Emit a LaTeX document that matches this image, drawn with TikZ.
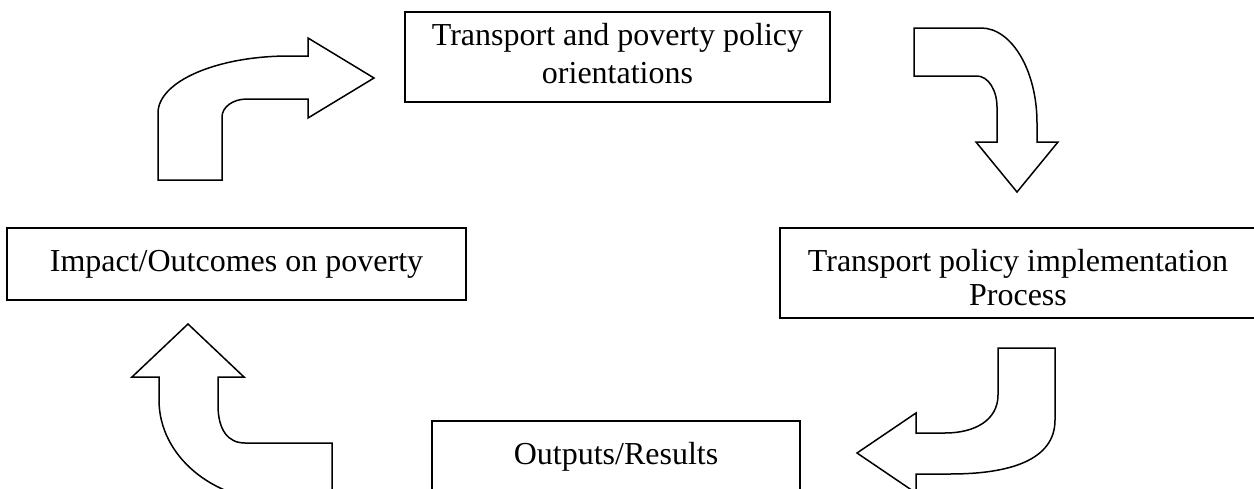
\documentclass[tikz,border=0pt]{standalone}
\usepackage{fontspec}
\setmainfont{Liberation Serif}
\begin{document}
\begin{tikzpicture}[x=1pt,y=-1pt,line join=miter,
  box/.style={draw,line width=1.8pt,inner sep=0pt,align=center,fill=white},
  blockarrow/.style={draw,line width=1.5pt,fill=white}]
\useasboundingbox (0,0) rectangle (1254,488);
\clip (0,0) rectangle (1254,488);
% boxes
\node[box,minimum width=425pt,minimum height=90pt,font=\fontsize{32}{38}\selectfont] (policy) at (617.5,57) {Transport and poverty policy\\orientations\rule[-8pt]{0pt}{8pt}};
\node[box,minimum width=476pt,minimum height=90pt,font=\fontsize{32}{34}\selectfont] (impl) at (1018,273) {\rule{0pt}{32pt}Transport policy implementation\\Process};
\node[box,minimum width=368pt,minimum height=72pt,font=\fontsize{32}{38}\selectfont] (outputs) at (616,457) {Outputs/Results};
\node[box,minimum width=459pt,minimum height=72pt,font=\fontsize{32}{38}\selectfont] (impact) at (236.5,264) {Impact/Outcomes on poverty};
% arrow A: up then right
\draw[blockarrow] (158,180) -- (158,113) .. controls (158,81.5) and (216.7,56) .. (289,56)
  -- (308,56) -- (308,38) -- (374,78) -- (308,118) -- (308,99) -- (247,99)
  .. controls (233,99) and (222,107) .. (222,117) -- (222,180) -- cycle;
% arrow B: right then down
\draw[blockarrow] (914,28) -- (914,76) -- (977,76) .. controls (988,76) and (997,90) .. (997,107)
  -- (997,142) -- (976,142) -- (1017,192) -- (1058,142) -- (1037,142) -- (1037,123)
  .. controls (1037,70.6) and (1011.7,28) .. (981,28) -- cycle;
% arrow C: down then left
\draw[blockarrow] (998,348) -- (1055,348) -- (1055,420) .. controls (1055,460) and (1010,474) .. (950,474)
  -- (916,474) -- (916,493) -- (857,453) -- (916,413) -- (916,433) -- (945,433)
  .. controls (975,433) and (998,420) .. (998,395) -- cycle;
% arrow D: left then up
\draw[blockarrow] (188,324) -- (244,377) -- (218,377) -- (218,405) .. controls (218,430) and (228,443) .. (245,443)
  -- (332,443) -- (332,501) -- (279,501) .. controls (212.8,501) and (159,455.8) .. (159,400)
  -- (159,377) -- (132,377) -- cycle;
\end{tikzpicture}
\end{document}
